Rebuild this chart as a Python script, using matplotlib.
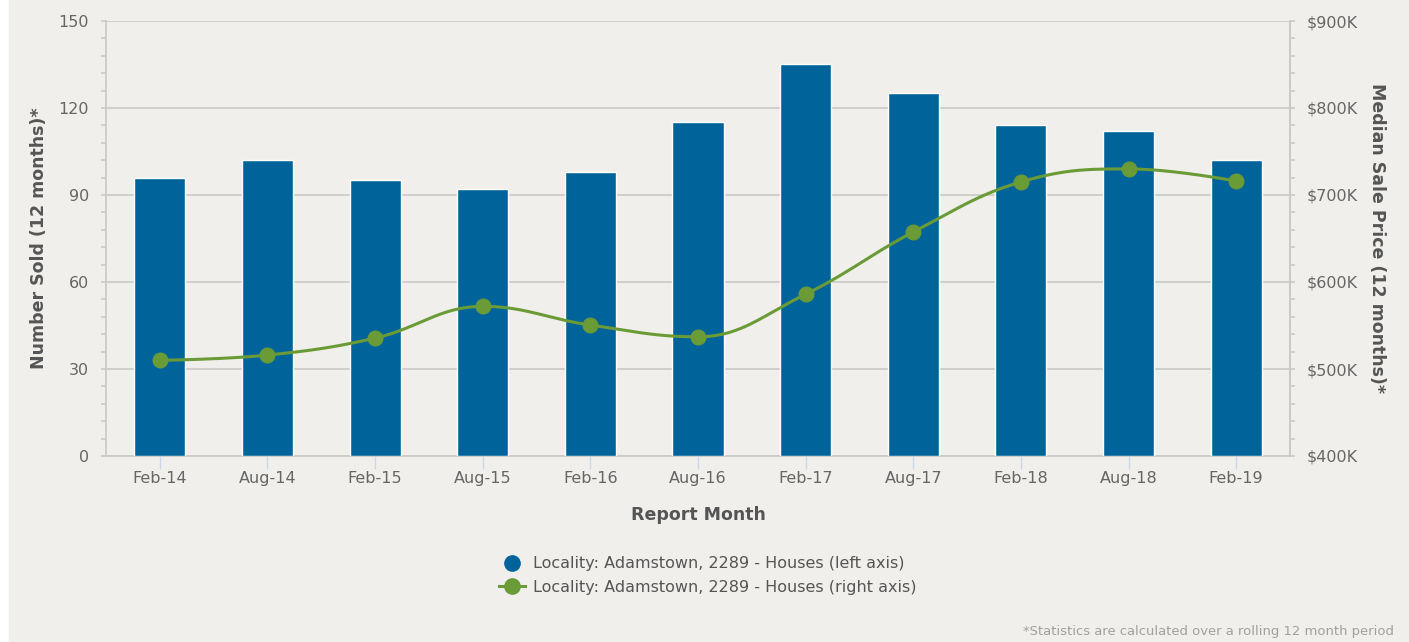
import numpy as np
import matplotlib
matplotlib.use("Agg")
import matplotlib.pyplot as plt
from matplotlib.ticker import MultipleLocator, FuncFormatter
from matplotlib.lines import Line2D

months = ["Feb-14", "Aug-14", "Feb-15", "Aug-15", "Feb-16", "Aug-16",
          "Feb-17", "Aug-17", "Feb-18", "Aug-18", "Feb-19"]
number_sold = [96, 102, 95, 92, 98, 115, 135, 125, 114, 112, 102]
median_price = [510000, 516000, 535500, 572000, 550500, 537000,
                586000, 657500, 715000, 730000, 716000]

series_name = "Locality: Adamstown, 2289 - Houses"
bar_color = "#00649a"
line_color = "#6b9b37"
bg = "#f0efeb"
grid_c = "#c9c9c9"
text_c = "#666666"
title_c = "#555555"


def spline_path(xs, ys, smoothing=1.5, steps=40):
    # Highcharts-style spline: bezier control points with overshoot clamp
    n = len(xs)
    lc = [(xs[i], ys[i]) for i in range(n)]
    rc = [(xs[i], ys[i]) for i in range(n)]
    d = smoothing + 1
    for i in range(1, n - 1):
        x, y = xs[i], ys[i]
        lx, ly = xs[i - 1], ys[i - 1]
        nx, ny = xs[i + 1], ys[i + 1]
        lcx = (smoothing * x + lx) / d
        lcy = (smoothing * y + ly) / d
        rcx = (smoothing * x + nx) / d
        rcy = (smoothing * y + ny) / d
        if rcx != lcx:
            corr = ((rcy - lcy) * (rcx - x)) / (rcx - lcx) + y - rcy
            lcy += corr
            rcy += corr
        if lcy > ly and lcy > y:
            lcy = max(ly, y); rcy = 2 * y - lcy
        elif lcy < ly and lcy < y:
            lcy = min(ly, y); rcy = 2 * y - lcy
        if rcy > ny and rcy > y:
            rcy = max(ny, y); lcy = 2 * y - rcy
        elif rcy < ny and rcy < y:
            rcy = min(ny, y); lcy = 2 * y - rcy
        lc[i] = (lcx, lcy)
        rc[i] = (rcx, rcy)
    px, py = [xs[0]], [ys[0]]
    t = np.linspace(0, 1, steps)[1:]
    for i in range(1, n):
        p0 = np.array([xs[i - 1], ys[i - 1]])
        p1 = np.array(rc[i - 1])
        p2 = np.array(lc[i])
        p3 = np.array([xs[i], ys[i]])
        for tt in t:
            b = ((1 - tt) ** 3) * p0 + 3 * ((1 - tt) ** 2) * tt * p1 \
                + 3 * (1 - tt) * tt ** 2 * p2 + tt ** 3 * p3
            px.append(b[0]); py.append(b[1])
    return px, py


fig = plt.figure(figsize=(14.09, 6.42), dpi=100)
fig.patch.set_facecolor("white")
fig.patches.append(plt.Rectangle((9 / 1409, 0), 1 - 9 / 1409, 1,
                                 transform=fig.transFigure, color=bg, zorder=-10))

ax = fig.add_axes([106 / 1409, 186 / 642, 1184 / 1409, 435 / 642])
ax.set_facecolor("none")
x = np.arange(len(months))

ax.bar(x, number_sold, width=0.475, color=bar_color, edgecolor="white",
       linewidth=1, zorder=3)
ax.set_xlim(-0.5, len(months) - 0.5)
ax.set_ylim(0, 150)
ax.yaxis.set_major_locator(MultipleLocator(30))
ax.yaxis.set_minor_locator(MultipleLocator(6))
ax.grid(axis="y", color=grid_c, linewidth=1.2, zorder=0)
ax.set_axisbelow(True)
ax.set_xticks(x)
ax.set_xticklabels(months)

ax.spines["top"].set_visible(False)
for s in ["left", "right", "bottom"]:
    ax.spines[s].set_color(grid_c)
    ax.spines[s].set_linewidth(1.2)

# tick lengths in points: 5 px on y, 13 px on x
ax.tick_params(axis="y", which="both", colors=grid_c, labelcolor=text_c,
               labelsize=11.5, length=3.6, width=1.2, pad=8.6)
ax.tick_params(axis="x", colors="#ccd6eb", labelcolor=text_c,
               labelsize=11.5, length=9.4, width=1, pad=1.5)

ax.set_xlabel("Report Month", fontsize=12.5, fontweight="bold",
              color=title_c, labelpad=14.5)
ax.set_ylabel("Number Sold (12 months)*", fontsize=12.5, fontweight="bold",
              color=title_c, labelpad=7.5)

ax2 = ax.twinx()
ax2.set_ylim(400000, 900000)
ax2.yaxis.set_major_locator(MultipleLocator(100000))
ax2.yaxis.set_minor_locator(MultipleLocator(20000))
ax2.yaxis.set_major_formatter(FuncFormatter(lambda v, p: f"${v / 1000:.0f}K"))
ax2.tick_params(axis="y", which="both", colors=grid_c, labelcolor=text_c,
                labelsize=11.5, length=3.6, width=1.2, pad=8.6)
for s in ["top", "left", "bottom"]:
    ax2.spines[s].set_visible(False)
ax2.spines["right"].set_color(grid_c)
ax2.spines["right"].set_linewidth(1.2)
ax2.set_ylabel("Median Sale Price (12 months)*", fontsize=12.5,
               fontweight="bold", color=title_c, rotation=270, labelpad=20)

sx, sy = spline_path(list(x), median_price)
ax2.plot(sx, sy, color=line_color, linewidth=2.2, zorder=4)
ax2.plot(x, median_price, "o", color=line_color, markersize=10.5, zorder=5)

handles = [
    Line2D([], [], marker="o", linestyle="none", color=bar_color, markersize=11),
    Line2D([], [], marker="o", color=line_color, linewidth=2.2, markersize=11),
]
labels = [f"{series_name} (left axis)", f"{series_name} (right axis)"]
leg = fig.legend(handles, labels, loc="center", bbox_to_anchor=(708 / 1409, 1 - 575.5 / 642),
                 frameon=False, fontsize=11.5, handlelength=1.6, handletextpad=0.5,
                 labelspacing=0.55)
for t in leg.get_texts():
    t.set_color(title_c)

fig.text(1394 / 1409, 1 - 632 / 642, "*Statistics are calculated over a rolling 12 month period",
         ha="right", va="center", fontsize=9.45, color="#a0a0a0")

fig.savefig("out.png", dpi=100, facecolor=fig.get_facecolor())
